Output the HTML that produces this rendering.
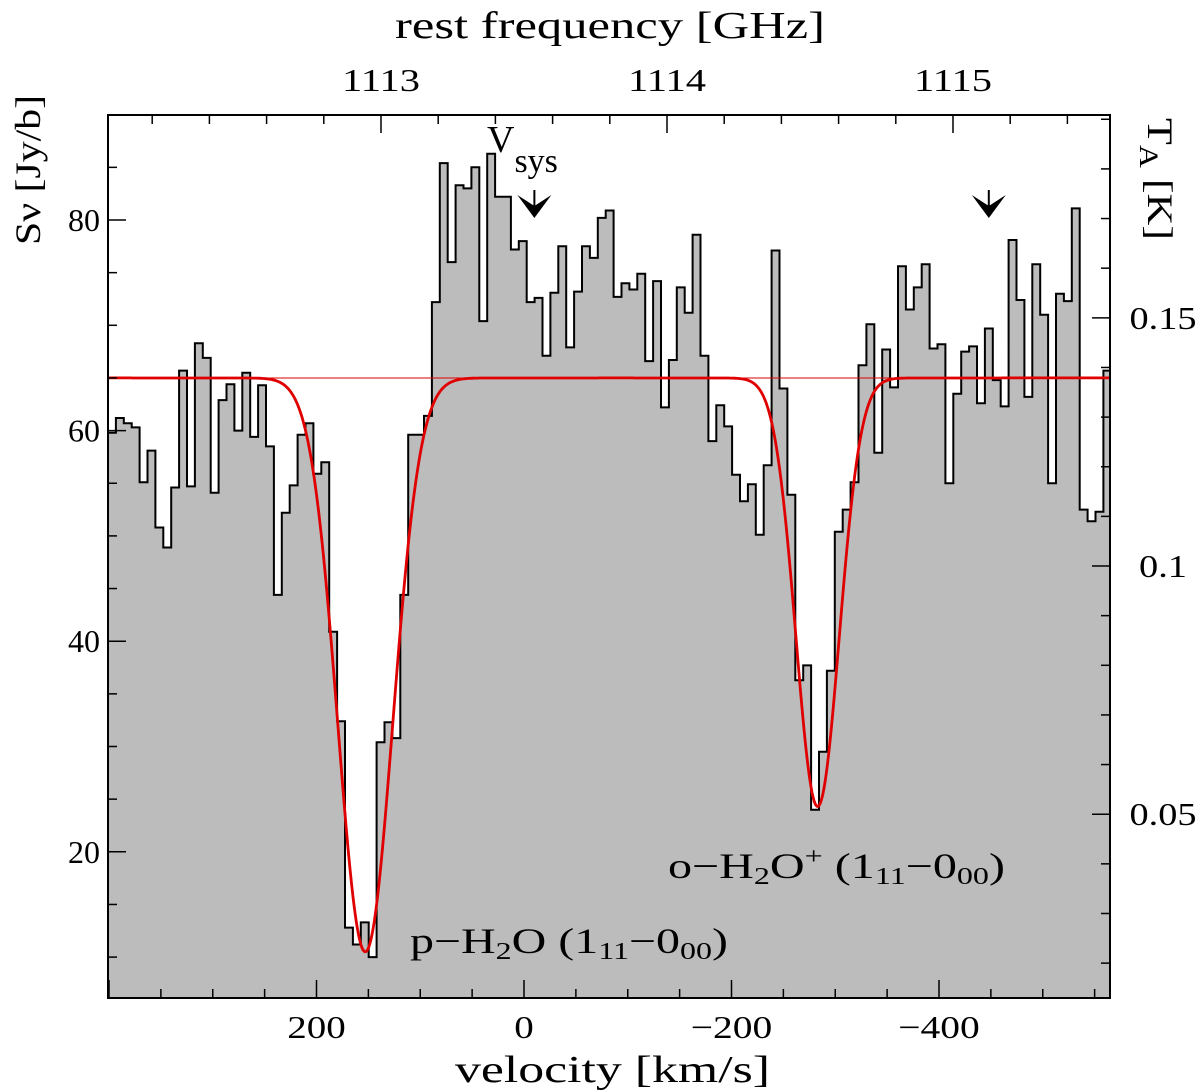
<!DOCTYPE html>
<html><head><meta charset="utf-8"><style>
html,body{margin:0;padding:0;background:#fff}
svg{display:block}
text{font-family:"Liberation Serif","DejaVu Serif",serif;fill:#000}
</style></head><body>
<svg id="chart" width="1200" height="1092" viewBox="0 0 1200 1092" xmlns="http://www.w3.org/2000/svg">
<g id="plot"></g>
<g id="axes"></g>
<text x="395" y="38" font-size="38" textLength="430" lengthAdjust="spacingAndGlyphs">rest frequency [GHz]</text>
<text x="455" y="1082" font-size="38" textLength="315" lengthAdjust="spacingAndGlyphs">velocity [km/s]</text>
<text transform="translate(40,245) rotate(-90)" font-size="36" textLength="150" lengthAdjust="spacingAndGlyphs">Sν [Jy/b]</text>
<text transform="translate(1148,118) rotate(90)" font-size="36" textLength="122" lengthAdjust="spacingAndGlyphs">T<tspan font-size="26" dy="8">A</tspan><tspan dy="-8"> [K]</tspan></text>
<text x="487" y="152" font-size="38">V<tspan font-size="34" dy="20">sys</tspan></text>
<text x="668" y="878" font-size="36" textLength="337" lengthAdjust="spacingAndGlyphs">o−H<tspan font-size="24" dy="6">2</tspan><tspan dy="-6">O</tspan><tspan font-size="24" dy="-14">+</tspan><tspan dy="14"> (1</tspan><tspan font-size="24" dy="6">11</tspan><tspan dy="-6">−0</tspan><tspan font-size="24" dy="6">00</tspan><tspan dy="-6">)</tspan></text>
<text x="410" y="953" font-size="36" textLength="318" lengthAdjust="spacingAndGlyphs">p−H<tspan font-size="24" dy="6">2</tspan><tspan dy="-6">O (1</tspan><tspan font-size="24" dy="6">11</tspan><tspan dy="-6">−0</tspan><tspan font-size="24" dy="6">00</tspan><tspan dy="-6">)</tspan></text>
</svg>
<script>
// ---- data ----
const channelStartVelocity = 401;   // km/s, left edge of first channel
const channelWidth = 7.615;         // km/s per channel
const fluxValues = [59.8,61.2,60.7,60.3,55.1,58.1,50.8,48.9,54.6,65.7,54.7,68.3,66.9,54.1,62.9,64.4,60.0,65.5,59.4,64.3,
58.5,44.4,52.2,54.8,59.6,60.7,55.9,57.0,40.9,32.4,12.8,11.2,13.3,10.0,30.4,32.3,30.8,44.4,59.6,59.6,
61.4,72.2,85.4,76.0,83.3,83.0,85.0,70.4,86.3,82.2,82.2,77.2,78.0,72.2,72.6,67.1,73.1,77.5,67.9,73.2,
77.5,76.4,80.2,80.9,72.7,74.0,73.4,74.9,66.6,74.2,62.2,66.7,73.6,71.2,78.6,67.1,59.0,62.4,60.4,55.8,
53.3,54.9,50.1,56.7,77.1,64.0,53.9,36.3,37.7,24.0,29.5,37.2,50.4,52.5,55.1,66.2,70.1,57.9,67.7,64.1,
75.6,71.5,73.6,75.8,67.8,68.2,55.0,63.5,67.5,68.0,62.6,69.7,64.8,62.3,78.1,72.4,63.2,75.8,71.0,55.0,
73.0,72.3,81.1,52.5,51.4,52.3,65.7];
const fitBaseline = 65;
const fitCenters = [153, -283];
const fitDepths = [54.5, 40.7];
const fitFWHM = [62, 49];
const velocityTicks = [200, 0, -200, -400];
const fluxTicks = [20, 40, 60, 80];
const freqTicks = [1113, 1114, 1115];
const tempTicks = [0.05, 0.1, 0.15];
const markerVelocities = [-10, -448];

// ---- axes functions ----
const X0=108, X1=1110, Y0=115, Y1=998;
const xV = v => 524 - v*207.5/200;
const yS = s => 220 + (80-s)*10.53;
const xF = f => 381 + (f-1113)*286;
const yT = t => yS(t*471.4);
const NS='http://www.w3.org/2000/svg';
const plot=document.getElementById('plot'), axes=document.getElementById('axes');
function mk(tag, attrs, parent){const e=document.createElementNS(NS,tag);for(const k in attrs)e.setAttribute(k,attrs[k]);parent.appendChild(e);return e;}
function labelWidth(s,dw){let w=0;for(const c of s){w+= c==='.'?10:(c==='−'?23:dw);}return w;}

const defs=mk('defs',{},plot);
const cp=mk('clipPath',{id:'clip'},defs);
mk('rect',{x:X0,y:Y0,width:X1-X0,height:Y1-Y0},cp);
const g=mk('g',{'clip-path':'url(#clip)'},plot);

// histogram
let d='M'+X0+','+Y1;
fluxValues.forEach((s,i)=>{
  const xa=xV(channelStartVelocity-i*channelWidth), xb=xV(channelStartVelocity-(i+1)*channelWidth);
  d+=' L'+xa.toFixed(1)+','+yS(s).toFixed(1)+' L'+xb.toFixed(1)+','+yS(s).toFixed(1);
});
const lastX=xV(channelStartVelocity-fluxValues.length*channelWidth);
const fillPath=mk('path',{d:d+' L'+lastX.toFixed(1)+','+Y1+' Z',fill:'#bcbcbc',stroke:'none'},g);


const stepPath=mk('path',{d:d.replace('M'+X0+','+Y1+' L','M'),fill:'none',stroke:'#000','stroke-width':2},g);



// fit
const base=mk('line',{x1:X0,x2:X1,y1:yS(fitBaseline),y2:yS(fitBaseline),stroke:'#e00000','stroke-width':1},g);


let fd='';
for(let x=X0;x<=X1;x+=1){
  const v=(524-x)*200/207.5;
  let s=fitBaseline;
  for(let k=0;k<fitCenters.length;k++){const sg=fitFWHM[k]/2.3548;s-=fitDepths[k]*Math.exp(-0.5*Math.pow((v-fitCenters[k])/sg,2));}
  fd+=(fd?' L':'M')+x+','+yS(s).toFixed(1);
}
const fit=mk('path',{d:fd,fill:'none',stroke:'#e00000','stroke-width':2.8},g);



// markers
markerVelocities.forEach(v=>{
  const x=xV(v);
  const m=mk('path',{d:`M${x},218 L${x-17},195 L${x},206 L${x+17},195 Z M${x-1},190 h2 v20 h-2 Z`,fill:'#000'},plot);
  
  
});

// frame
const fr=mk('rect',{x:X0,y:Y0,width:X1-X0,height:Y1-Y0,fill:'none',stroke:'#000','stroke-width':2},axes);


function tick(x1,y1,x2,y2){mk('line',{x1,y1,x2,y2,stroke:'#000','stroke-width':1.5},axes);}
for(let v=400;v>=-550;v-=50){const x=xV(v);if(x<X0||x>X1)continue;const maj=v%200===0;tick(x,Y1,x,Y1-(maj?18:9));}
velocityTicks.forEach(v=>{const s=v<0?'−'+(-v):String(v);const t=mk('text',{x:xV(v),y:1038,'font-size':32,'text-anchor':'middle',textLength:labelWidth(s,19.5),lengthAdjust:'spacingAndGlyphs'},axes);t.textContent=s;

});
for(let f=1112.2;f<=1115.61;f+=0.2){const x=xF(f);if(x<X0||x>X1)continue;const maj=Math.abs(f-Math.round(f))<0.01;tick(x,Y0,x,Y0+(maj?18:9));}
freqTicks.forEach(f=>{const s=String(f);const t=mk('text',{x:xF(f),y:91,'font-size':32,'text-anchor':'middle',textLength:labelWidth(s,19.5),lengthAdjust:'spacingAndGlyphs'},axes);t.textContent=s;

});
for(let s=10;s<=90;s+=5){const y=yS(s);if(y<Y0||y>Y1)continue;const maj=s%20===0;tick(X0,y,X0+(maj?18:9),y);}
fluxTicks.forEach(v=>{const s=String(v);const t=mk('text',{x:100,y:yS(v)+11,'font-size':32,'text-anchor':'end',textLength:labelWidth(s,16),lengthAdjust:'spacingAndGlyphs'},axes);t.textContent=s;

});
for(let k=2;k<=19;k++){const t=k/100;const y=yT(t);if(y<Y0||y>Y1)continue;const maj=k%5===0;tick(X1,y,X1-(maj?18:9),y);}
tempTicks.forEach(tv=>{const s=String(tv);const t=mk('text',{x:1163,y:yT(tv)+11,'font-size':32,'text-anchor':'middle',textLength:labelWidth(s,19),lengthAdjust:'spacingAndGlyphs'},axes);t.textContent=s;

});
</script>
</body></html>
